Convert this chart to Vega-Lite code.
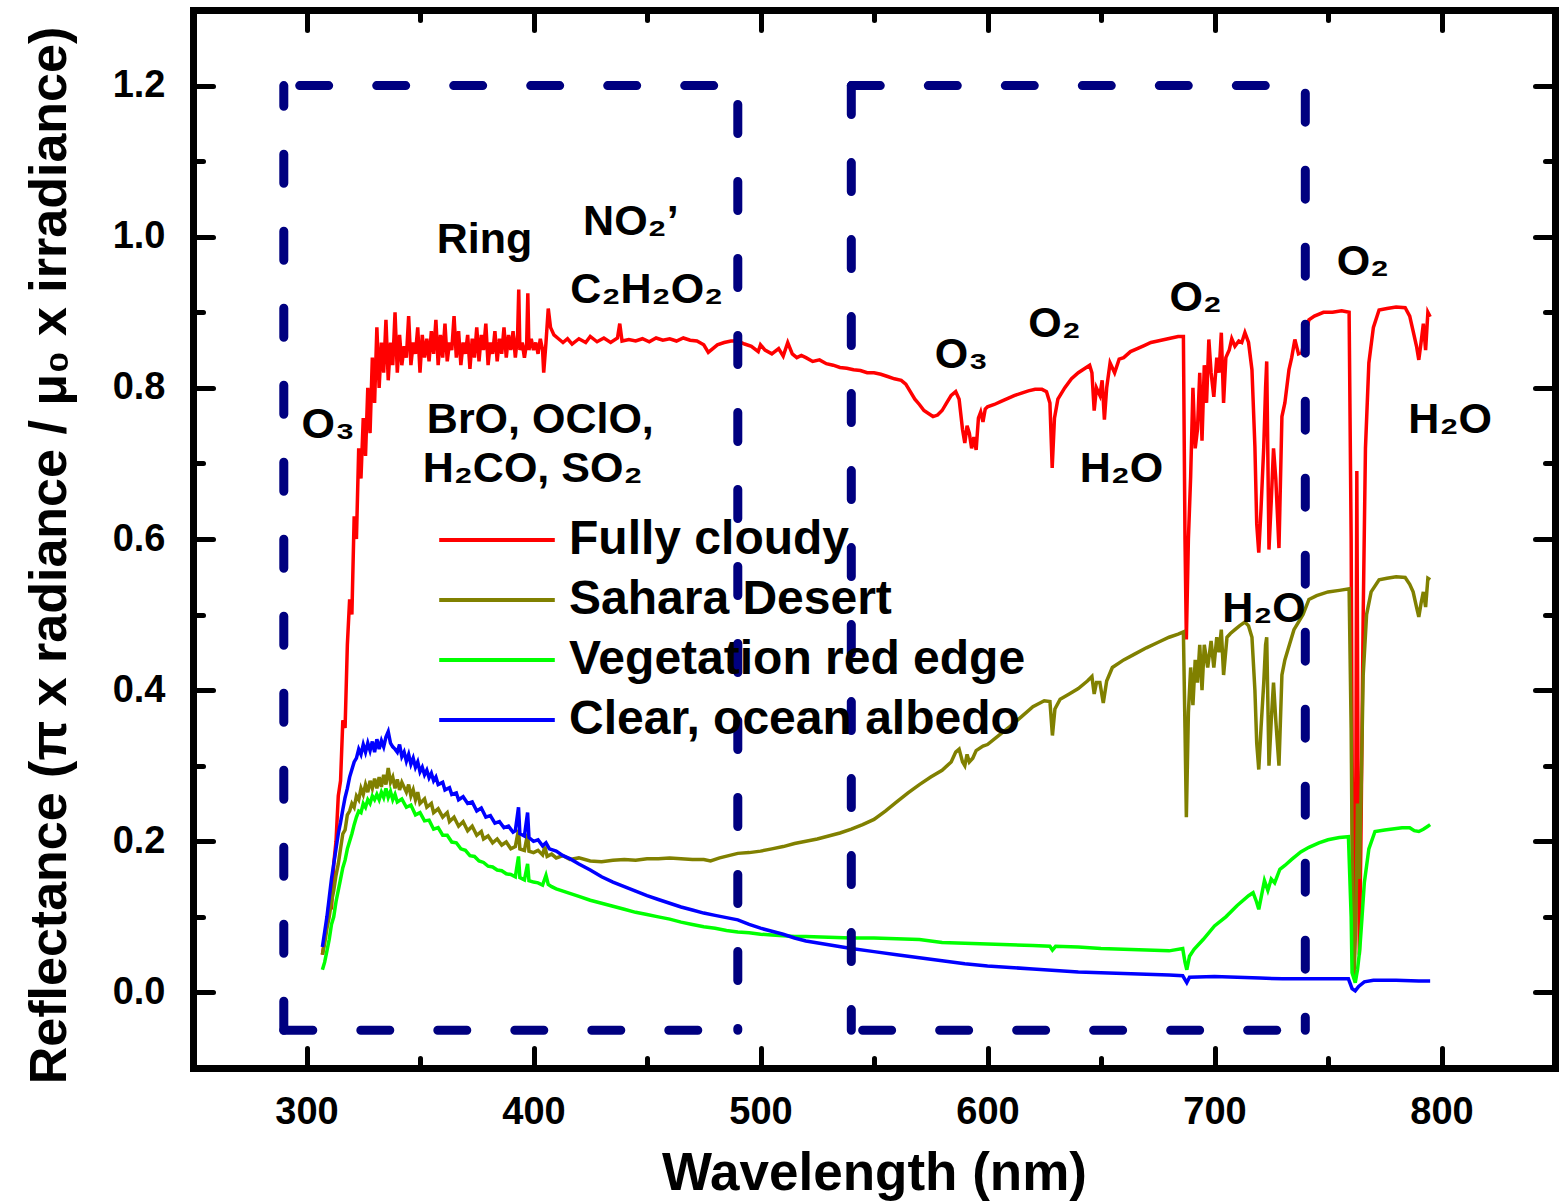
{
"$schema": "https://vega.github.io/schema/vega-lite/v6.json",
"width": 1362, "height": 1058,
"autosize": {"type": "none"},
"padding": {"left": 193, "top": 10, "right": 12, "bottom": 135},
"background": "white",
"config": {"font": "Liberation Sans", "view": {"stroke": null}},
"datasets": {
"red": [{"nm":307,"r":0.05},{"nm":308,"r":0.07},{"nm":309,"r":0.09},{"nm":310,"r":0.12},{"nm":311,"r":0.11},{"nm":312,"r":0.17},{"nm":313,"r":0.2},{"nm":314,"r":0.26},{"nm":315,"r":0.28},{"nm":316,"r":0.36},{"nm":317,"r":0.35},{"nm":318,"r":0.46},{"nm":319,"r":0.52},{"nm":320,"r":0.5},{"nm":321,"r":0.63},{"nm":322,"r":0.6},{"nm":323,"r":0.72},{"nm":324,"r":0.68},{"nm":325,"r":0.76},{"nm":326,"r":0.71},{"nm":327,"r":0.8},{"nm":328,"r":0.74},{"nm":329,"r":0.84},{"nm":330,"r":0.78},{"nm":331,"r":0.88},{"nm":332,"r":0.8},{"nm":333,"r":0.86},{"nm":334,"r":0.82},{"nm":335,"r":0.89},{"nm":336,"r":0.81},{"nm":337,"r":0.86},{"nm":338,"r":0.83},{"nm":339,"r":0.9},{"nm":340,"r":0.82},{"nm":341,"r":0.87},{"nm":342,"r":0.83},{"nm":343,"r":0.855},{"nm":344,"r":0.84},{"nm":345,"r":0.895},{"nm":346,"r":0.83},{"nm":347,"r":0.86},{"nm":348,"r":0.845},{"nm":349,"r":0.88},{"nm":350,"r":0.82},{"nm":351,"r":0.87},{"nm":352,"r":0.84},{"nm":353,"r":0.865},{"nm":354,"r":0.835},{"nm":355,"r":0.875},{"nm":356,"r":0.845},{"nm":357,"r":0.89},{"nm":358,"r":0.83},{"nm":359,"r":0.87},{"nm":360,"r":0.84},{"nm":361,"r":0.885},{"nm":362,"r":0.835},{"nm":363,"r":0.86},{"nm":364,"r":0.85},{"nm":365,"r":0.895},{"nm":366,"r":0.84},{"nm":367,"r":0.875},{"nm":368,"r":0.83},{"nm":369,"r":0.86},{"nm":370,"r":0.845},{"nm":371,"r":0.87},{"nm":372,"r":0.825},{"nm":373,"r":0.865},{"nm":374,"r":0.84},{"nm":375,"r":0.88},{"nm":376,"r":0.835},{"nm":377,"r":0.87},{"nm":378,"r":0.85},{"nm":379,"r":0.885},{"nm":380,"r":0.83},{"nm":381,"r":0.86},{"nm":382,"r":0.845},{"nm":383,"r":0.875},{"nm":384,"r":0.835},{"nm":385,"r":0.865},{"nm":386,"r":0.845},{"nm":387,"r":0.88},{"nm":388,"r":0.84},{"nm":389,"r":0.87},{"nm":390,"r":0.85},{"nm":391,"r":0.875},{"nm":392,"r":0.84},{"nm":393,"r":0.87},{"nm":393.5,"r":0.93},{"nm":394,"r":0.85},{"nm":395,"r":0.86},{"nm":396,"r":0.84},{"nm":397,"r":0.86},{"nm":397.5,"r":0.925},{"nm":398,"r":0.85},{"nm":399,"r":0.865},{"nm":400,"r":0.85},{"nm":401,"r":0.86},{"nm":402,"r":0.845},{"nm":403,"r":0.865},{"nm":404,"r":0.85},{"nm":404.5,"r":0.82},{"nm":405.5,"r":0.86},{"nm":406.5,"r":0.905},{"nm":407.5,"r":0.88},{"nm":409,"r":0.87},{"nm":411,"r":0.865},{"nm":413,"r":0.86},{"nm":415,"r":0.865},{"nm":417,"r":0.858},{"nm":420,"r":0.865},{"nm":423,"r":0.86},{"nm":425,"r":0.868},{"nm":428,"r":0.861},{"nm":431,"r":0.866},{"nm":434,"r":0.86},{"nm":437,"r":0.866},{"nm":438,"r":0.885},{"nm":439,"r":0.862},{"nm":442,"r":0.864},{"nm":445,"r":0.862},{"nm":448,"r":0.865},{"nm":451,"r":0.861},{"nm":454,"r":0.866},{"nm":457,"r":0.863},{"nm":460,"r":0.865},{"nm":463,"r":0.862},{"nm":466,"r":0.866},{"nm":469,"r":0.863},{"nm":472,"r":0.862},{"nm":475,"r":0.857},{"nm":477,"r":0.847},{"nm":479,"r":0.852},{"nm":481,"r":0.857},{"nm":484,"r":0.86},{"nm":487,"r":0.862},{"nm":490,"r":0.862},{"nm":493,"r":0.858},{"nm":496,"r":0.855},{"nm":499,"r":0.848},{"nm":500,"r":0.857},{"nm":502,"r":0.85},{"nm":505,"r":0.845},{"nm":508,"r":0.852},{"nm":510,"r":0.842},{"nm":512,"r":0.86},{"nm":514,"r":0.845},{"nm":516,"r":0.84},{"nm":518,"r":0.843},{"nm":520,"r":0.84},{"nm":523,"r":0.835},{"nm":526,"r":0.837},{"nm":529,"r":0.832},{"nm":532,"r":0.83},{"nm":535,"r":0.827},{"nm":538,"r":0.826},{"nm":541,"r":0.824},{"nm":544,"r":0.823},{"nm":547,"r":0.82},{"nm":550,"r":0.82},{"nm":553,"r":0.818},{"nm":556,"r":0.815},{"nm":559,"r":0.812},{"nm":562,"r":0.81},{"nm":564,"r":0.805},{"nm":566,"r":0.795},{"nm":568,"r":0.785},{"nm":570,"r":0.778},{"nm":572,"r":0.77},{"nm":574,"r":0.766},{"nm":576,"r":0.762},{"nm":578,"r":0.764},{"nm":580,"r":0.77},{"nm":582,"r":0.78},{"nm":584,"r":0.79},{"nm":586,"r":0.795},{"nm":587.5,"r":0.785},{"nm":589,"r":0.745},{"nm":590,"r":0.727},{"nm":591,"r":0.75},{"nm":592,"r":0.74},{"nm":593,"r":0.72},{"nm":594,"r":0.735},{"nm":595,"r":0.718},{"nm":596,"r":0.76},{"nm":597,"r":0.768},{"nm":598,"r":0.755},{"nm":599,"r":0.772},{"nm":600,"r":0.775},{"nm":603,"r":0.778},{"nm":606,"r":0.782},{"nm":609,"r":0.786},{"nm":612,"r":0.79},{"nm":615,"r":0.793},{"nm":618,"r":0.796},{"nm":621,"r":0.798},{"nm":624,"r":0.798},{"nm":626,"r":0.795},{"nm":627.5,"r":0.78},{"nm":628.5,"r":0.694},{"nm":629.5,"r":0.76},{"nm":631,"r":0.785},{"nm":634,"r":0.8},{"nm":637,"r":0.812},{"nm":640,"r":0.82},{"nm":643,"r":0.826},{"nm":645,"r":0.83},{"nm":646,"r":0.82},{"nm":647,"r":0.77},{"nm":648,"r":0.8},{"nm":649.5,"r":0.79},{"nm":650.5,"r":0.81},{"nm":651.5,"r":0.758},{"nm":652.5,"r":0.8},{"nm":654,"r":0.833},{"nm":656,"r":0.82},{"nm":658,"r":0.838},{"nm":660,"r":0.84},{"nm":663,"r":0.848},{"nm":666,"r":0.852},{"nm":669,"r":0.856},{"nm":672,"r":0.86},{"nm":675,"r":0.862},{"nm":678,"r":0.864},{"nm":681,"r":0.866},{"nm":684,"r":0.868},{"nm":686.3,"r":0.868},{"nm":687,"r":0.6},{"nm":687.6,"r":0.467},{"nm":688.5,"r":0.6},{"nm":689.5,"r":0.683},{"nm":690.5,"r":0.8},{"nm":691.5,"r":0.72},{"nm":692.5,"r":0.745},{"nm":693.5,"r":0.82},{"nm":694.5,"r":0.73},{"nm":695.5,"r":0.83},{"nm":696.5,"r":0.78},{"nm":697.5,"r":0.864},{"nm":698.5,"r":0.82},{"nm":699.7,"r":0.788},{"nm":701,"r":0.84},{"nm":702,"r":0.82},{"nm":703,"r":0.873},{"nm":704,"r":0.78},{"nm":705,"r":0.84},{"nm":706.5,"r":0.85},{"nm":707.6,"r":0.865},{"nm":709,"r":0.855},{"nm":710.7,"r":0.862},{"nm":712,"r":0.86},{"nm":713.4,"r":0.873},{"nm":715,"r":0.86},{"nm":716.5,"r":0.824},{"nm":717.8,"r":0.722},{"nm":718.6,"r":0.62},{"nm":719.5,"r":0.582},{"nm":720.5,"r":0.64},{"nm":721.7,"r":0.722},{"nm":722.5,"r":0.8},{"nm":723,"r":0.835},{"nm":724,"r":0.586},{"nm":725,"r":0.65},{"nm":726,"r":0.72},{"nm":727,"r":0.68},{"nm":728.4,"r":0.588},{"nm":729.7,"r":0.762},{"nm":731,"r":0.78},{"nm":732.8,"r":0.824},{"nm":734,"r":0.84},{"nm":735.4,"r":0.864},{"nm":737,"r":0.845},{"nm":738.5,"r":0.847},{"nm":740,"r":0.87},{"nm":741.6,"r":0.89},{"nm":744,"r":0.895},{"nm":748,"r":0.9},{"nm":752,"r":0.9},{"nm":756,"r":0.902},{"nm":759.3,"r":0.9},{"nm":760.2,"r":0.6},{"nm":760.8,"r":0.2},{"nm":761.5,"r":0.02},{"nm":762.3,"r":0.3},{"nm":762.7,"r":0.69},{"nm":763.2,"r":0.3},{"nm":763.8,"r":0.05},{"nm":764.5,"r":0.2},{"nm":765.5,"r":0.5},{"nm":766.5,"r":0.72},{"nm":768,"r":0.833},{"nm":770,"r":0.88},{"nm":772.5,"r":0.903},{"nm":776,"r":0.905},{"nm":780,"r":0.907},{"nm":784,"r":0.906},{"nm":786,"r":0.895},{"nm":787.5,"r":0.875},{"nm":789,"r":0.855},{"nm":790,"r":0.837},{"nm":791,"r":0.86},{"nm":792,"r":0.885},{"nm":793,"r":0.85},{"nm":794,"r":0.9},{"nm":795,"r":0.894}],
"olive": [{"nm":307,"r":0.05},{"nm":308,"r":0.065},{"nm":309,"r":0.085},{"nm":310,"r":0.1},{"nm":311,"r":0.12},{"nm":312,"r":0.135},{"nm":313,"r":0.155},{"nm":314,"r":0.17},{"nm":315,"r":0.19},{"nm":316,"r":0.21},{"nm":317,"r":0.215},{"nm":318,"r":0.235},{"nm":319,"r":0.24},{"nm":320,"r":0.25},{"nm":321,"r":0.245},{"nm":322,"r":0.26},{"nm":323,"r":0.255},{"nm":324,"r":0.27},{"nm":325,"r":0.262},{"nm":326,"r":0.275},{"nm":327,"r":0.265},{"nm":328,"r":0.28},{"nm":329,"r":0.27},{"nm":330,"r":0.283},{"nm":331,"r":0.27},{"nm":332,"r":0.285},{"nm":333,"r":0.272},{"nm":334,"r":0.288},{"nm":335,"r":0.275},{"nm":336,"r":0.297},{"nm":337,"r":0.278},{"nm":338,"r":0.285},{"nm":339,"r":0.27},{"nm":340,"r":0.282},{"nm":341,"r":0.268},{"nm":342,"r":0.278},{"nm":344,"r":0.265},{"nm":345,"r":0.275},{"nm":346,"r":0.26},{"nm":347,"r":0.268},{"nm":348,"r":0.255},{"nm":349,"r":0.265},{"nm":350,"r":0.25},{"nm":352,"r":0.256},{"nm":353,"r":0.245},{"nm":355,"r":0.25},{"nm":356,"r":0.238},{"nm":358,"r":0.243},{"nm":360,"r":0.232},{"nm":362,"r":0.238},{"nm":363,"r":0.226},{"nm":365,"r":0.232},{"nm":367,"r":0.22},{"nm":369,"r":0.226},{"nm":371,"r":0.214},{"nm":373,"r":0.22},{"nm":375,"r":0.208},{"nm":377,"r":0.213},{"nm":378,"r":0.203},{"nm":380,"r":0.207},{"nm":382,"r":0.198},{"nm":384,"r":0.203},{"nm":386,"r":0.195},{"nm":388,"r":0.199},{"nm":390,"r":0.19},{"nm":392,"r":0.193},{"nm":393.4,"r":0.215},{"nm":394,"r":0.19},{"nm":396,"r":0.188},{"nm":397.4,"r":0.21},{"nm":398,"r":0.187},{"nm":400,"r":0.185},{"nm":402,"r":0.188},{"nm":404,"r":0.182},{"nm":405,"r":0.193},{"nm":406,"r":0.18},{"nm":408,"r":0.183},{"nm":410,"r":0.178},{"nm":413,"r":0.181},{"nm":416,"r":0.176},{"nm":420,"r":0.178},{"nm":425,"r":0.174},{"nm":430,"r":0.173},{"nm":435,"r":0.175},{"nm":440,"r":0.176},{"nm":445,"r":0.175},{"nm":450,"r":0.177},{"nm":455,"r":0.177},{"nm":460,"r":0.178},{"nm":465,"r":0.177},{"nm":470,"r":0.176},{"nm":475,"r":0.176},{"nm":478,"r":0.174},{"nm":482,"r":0.178},{"nm":486,"r":0.181},{"nm":490,"r":0.184},{"nm":495,"r":0.185},{"nm":500,"r":0.187},{"nm":505,"r":0.19},{"nm":510,"r":0.193},{"nm":515,"r":0.197},{"nm":520,"r":0.2},{"nm":525,"r":0.203},{"nm":530,"r":0.207},{"nm":535,"r":0.211},{"nm":540,"r":0.216},{"nm":545,"r":0.222},{"nm":550,"r":0.229},{"nm":555,"r":0.24},{"nm":560,"r":0.252},{"nm":565,"r":0.264},{"nm":570,"r":0.275},{"nm":575,"r":0.285},{"nm":580,"r":0.294},{"nm":584,"r":0.305},{"nm":586,"r":0.318},{"nm":587.5,"r":0.322},{"nm":589,"r":0.305},{"nm":590,"r":0.3},{"nm":591,"r":0.315},{"nm":592,"r":0.305},{"nm":593.5,"r":0.31},{"nm":595,"r":0.32},{"nm":598,"r":0.326},{"nm":600,"r":0.328},{"nm":605,"r":0.34},{"nm":610,"r":0.352},{"nm":615,"r":0.365},{"nm":620,"r":0.378},{"nm":625,"r":0.386},{"nm":627.5,"r":0.385},{"nm":628.6,"r":0.34},{"nm":629.7,"r":0.375},{"nm":632,"r":0.388},{"nm":636,"r":0.395},{"nm":640,"r":0.402},{"nm":644,"r":0.412},{"nm":646,"r":0.418},{"nm":647,"r":0.395},{"nm":648,"r":0.41},{"nm":649.5,"r":0.41},{"nm":651,"r":0.383},{"nm":652.5,"r":0.412},{"nm":655,"r":0.43},{"nm":660,"r":0.44},{"nm":665,"r":0.448},{"nm":670,"r":0.456},{"nm":675,"r":0.463},{"nm":680,"r":0.47},{"nm":684,"r":0.474},{"nm":686.3,"r":0.477},{"nm":687,"r":0.35},{"nm":687.6,"r":0.232},{"nm":688.5,"r":0.37},{"nm":689.5,"r":0.43},{"nm":690.5,"r":0.38},{"nm":691.5,"r":0.44},{"nm":692.5,"r":0.41},{"nm":693.5,"r":0.46},{"nm":694.5,"r":0.4},{"nm":695.5,"r":0.46},{"nm":697,"r":0.43},{"nm":698.5,"r":0.465},{"nm":699.7,"r":0.43},{"nm":701,"r":0.47},{"nm":702,"r":0.45},{"nm":703,"r":0.48},{"nm":704,"r":0.42},{"nm":705.5,"r":0.47},{"nm":707,"r":0.475},{"nm":709,"r":0.48},{"nm":711,"r":0.485},{"nm":713.4,"r":0.49},{"nm":715,"r":0.485},{"nm":716.5,"r":0.47},{"nm":717.8,"r":0.4},{"nm":718.6,"r":0.33},{"nm":719.5,"r":0.295},{"nm":720.5,"r":0.35},{"nm":721.7,"r":0.41},{"nm":722.5,"r":0.46},{"nm":723,"r":0.47},{"nm":724,"r":0.3},{"nm":725,"r":0.36},{"nm":726,"r":0.41},{"nm":727,"r":0.36},{"nm":728.4,"r":0.3},{"nm":729.7,"r":0.42},{"nm":731,"r":0.44},{"nm":733,"r":0.46},{"nm":735,"r":0.48},{"nm":737,"r":0.49},{"nm":739,"r":0.5},{"nm":741.6,"r":0.52},{"nm":745,"r":0.525},{"nm":750,"r":0.53},{"nm":755,"r":0.532},{"nm":759.3,"r":0.534},{"nm":760.2,"r":0.35},{"nm":761,"r":0.05},{"nm":761.5,"r":0.02},{"nm":762.3,"r":0.1},{"nm":763,"r":0.25},{"nm":763.8,"r":0.15},{"nm":764.5,"r":0.25},{"nm":765.5,"r":0.42},{"nm":767,"r":0.5},{"nm":769,"r":0.53},{"nm":772.5,"r":0.546},{"nm":776,"r":0.548},{"nm":780,"r":0.55},{"nm":784,"r":0.549},{"nm":786,"r":0.54},{"nm":787.5,"r":0.53},{"nm":789,"r":0.51},{"nm":790,"r":0.497},{"nm":791,"r":0.515},{"nm":792,"r":0.53},{"nm":793,"r":0.51},{"nm":794,"r":0.548},{"nm":795,"r":0.546}],
"green": [{"nm":307,"r":0.03},{"nm":308,"r":0.04},{"nm":309,"r":0.055},{"nm":310,"r":0.07},{"nm":311,"r":0.09},{"nm":312,"r":0.1},{"nm":313,"r":0.12},{"nm":314,"r":0.135},{"nm":315,"r":0.15},{"nm":316,"r":0.165},{"nm":317,"r":0.175},{"nm":318,"r":0.19},{"nm":319,"r":0.2},{"nm":320,"r":0.21},{"nm":321,"r":0.222},{"nm":322,"r":0.232},{"nm":323,"r":0.24},{"nm":324,"r":0.238},{"nm":325,"r":0.25},{"nm":326,"r":0.245},{"nm":327,"r":0.255},{"nm":328,"r":0.25},{"nm":329,"r":0.26},{"nm":330,"r":0.255},{"nm":331,"r":0.262},{"nm":332,"r":0.255},{"nm":333,"r":0.265},{"nm":334,"r":0.258},{"nm":335,"r":0.27},{"nm":336,"r":0.258},{"nm":337,"r":0.266},{"nm":338,"r":0.255},{"nm":339,"r":0.262},{"nm":340,"r":0.252},{"nm":342,"r":0.256},{"nm":344,"r":0.245},{"nm":346,"r":0.248},{"nm":348,"r":0.235},{"nm":350,"r":0.238},{"nm":352,"r":0.227},{"nm":354,"r":0.228},{"nm":356,"r":0.216},{"nm":358,"r":0.218},{"nm":360,"r":0.208},{"nm":362,"r":0.208},{"nm":364,"r":0.199},{"nm":366,"r":0.198},{"nm":368,"r":0.19},{"nm":370,"r":0.188},{"nm":372,"r":0.181},{"nm":374,"r":0.18},{"nm":376,"r":0.174},{"nm":378,"r":0.172},{"nm":380,"r":0.167},{"nm":382,"r":0.166},{"nm":384,"r":0.162},{"nm":386,"r":0.161},{"nm":388,"r":0.157},{"nm":390,"r":0.156},{"nm":392,"r":0.153},{"nm":393.4,"r":0.18},{"nm":394,"r":0.152},{"nm":396,"r":0.149},{"nm":397.4,"r":0.17},{"nm":398,"r":0.148},{"nm":400,"r":0.146},{"nm":402,"r":0.145},{"nm":404,"r":0.142},{"nm":405.5,"r":0.155},{"nm":406.5,"r":0.143},{"nm":408,"r":0.14},{"nm":410,"r":0.137},{"nm":413,"r":0.134},{"nm":416,"r":0.131},{"nm":420,"r":0.127},{"nm":425,"r":0.122},{"nm":430,"r":0.118},{"nm":435,"r":0.114},{"nm":440,"r":0.11},{"nm":445,"r":0.106},{"nm":450,"r":0.103},{"nm":455,"r":0.1},{"nm":460,"r":0.097},{"nm":465,"r":0.093},{"nm":470,"r":0.09},{"nm":475,"r":0.087},{"nm":480,"r":0.085},{"nm":485,"r":0.082},{"nm":490,"r":0.08},{"nm":495,"r":0.079},{"nm":500,"r":0.077},{"nm":505,"r":0.076},{"nm":510,"r":0.075},{"nm":515,"r":0.074},{"nm":520,"r":0.074},{"nm":530,"r":0.073},{"nm":540,"r":0.072},{"nm":550,"r":0.072},{"nm":560,"r":0.071},{"nm":570,"r":0.07},{"nm":580,"r":0.066},{"nm":590,"r":0.065},{"nm":600,"r":0.064},{"nm":610,"r":0.063},{"nm":620,"r":0.062},{"nm":627.5,"r":0.061},{"nm":628.6,"r":0.056},{"nm":630,"r":0.061},{"nm":640,"r":0.06},{"nm":650,"r":0.058},{"nm":660,"r":0.057},{"nm":670,"r":0.056},{"nm":680,"r":0.055},{"nm":686,"r":0.058},{"nm":687,"r":0.04},{"nm":687.8,"r":0.03},{"nm":689,"r":0.048},{"nm":691,"r":0.057},{"nm":695,"r":0.07},{"nm":700,"r":0.088},{"nm":705,"r":0.1},{"nm":710,"r":0.115},{"nm":715,"r":0.128},{"nm":717,"r":0.132},{"nm":718.5,"r":0.12},{"nm":719.5,"r":0.11},{"nm":720.5,"r":0.125},{"nm":722,"r":0.148},{"nm":723.5,"r":0.135},{"nm":725,"r":0.15},{"nm":726.5,"r":0.145},{"nm":728.8,"r":0.163},{"nm":731,"r":0.168},{"nm":734,"r":0.176},{"nm":738,"r":0.186},{"nm":741.6,"r":0.192},{"nm":746,"r":0.198},{"nm":750,"r":0.202},{"nm":755,"r":0.205},{"nm":759,"r":0.206},{"nm":760.2,"r":0.1},{"nm":760.6,"r":0.026},{"nm":762,"r":0.013},{"nm":763,"r":0.03},{"nm":764,"r":0.057},{"nm":765,"r":0.1},{"nm":766,"r":0.145},{"nm":768,"r":0.19},{"nm":770.7,"r":0.213},{"nm":775,"r":0.215},{"nm":782.6,"r":0.218},{"nm":786,"r":0.218},{"nm":788,"r":0.214},{"nm":790,"r":0.213},{"nm":792,"r":0.216},{"nm":794,"r":0.22},{"nm":795,"r":0.222}],
"blue": [{"nm":307,"r":0.06},{"nm":308,"r":0.08},{"nm":309,"r":0.1},{"nm":310,"r":0.125},{"nm":311,"r":0.15},{"nm":312,"r":0.17},{"nm":313,"r":0.19},{"nm":314,"r":0.21},{"nm":315,"r":0.225},{"nm":316,"r":0.242},{"nm":317,"r":0.258},{"nm":318,"r":0.27},{"nm":319,"r":0.285},{"nm":320,"r":0.295},{"nm":321,"r":0.305},{"nm":322,"r":0.31},{"nm":323,"r":0.322},{"nm":324,"r":0.315},{"nm":325,"r":0.328},{"nm":326,"r":0.318},{"nm":327,"r":0.33},{"nm":328,"r":0.32},{"nm":329,"r":0.332},{"nm":330,"r":0.318},{"nm":331,"r":0.335},{"nm":332,"r":0.322},{"nm":333,"r":0.333},{"nm":334,"r":0.325},{"nm":335,"r":0.338},{"nm":336,"r":0.345},{"nm":337,"r":0.33},{"nm":338,"r":0.325},{"nm":339,"r":0.322},{"nm":340,"r":0.318},{"nm":341,"r":0.328},{"nm":342,"r":0.312},{"nm":343,"r":0.318},{"nm":344,"r":0.306},{"nm":345,"r":0.315},{"nm":346,"r":0.302},{"nm":347,"r":0.31},{"nm":348,"r":0.298},{"nm":349,"r":0.305},{"nm":350,"r":0.292},{"nm":351,"r":0.298},{"nm":352,"r":0.288},{"nm":353,"r":0.294},{"nm":354,"r":0.284},{"nm":355,"r":0.29},{"nm":356,"r":0.28},{"nm":357,"r":0.285},{"nm":358,"r":0.275},{"nm":360,"r":0.278},{"nm":361,"r":0.268},{"nm":363,"r":0.271},{"nm":364,"r":0.262},{"nm":366,"r":0.264},{"nm":367,"r":0.255},{"nm":369,"r":0.259},{"nm":371,"r":0.25},{"nm":373,"r":0.252},{"nm":375,"r":0.24},{"nm":377,"r":0.244},{"nm":379,"r":0.232},{"nm":381,"r":0.234},{"nm":383,"r":0.224},{"nm":385,"r":0.226},{"nm":387,"r":0.218},{"nm":389,"r":0.22},{"nm":391,"r":0.212},{"nm":392,"r":0.214},{"nm":393.4,"r":0.245},{"nm":394,"r":0.21},{"nm":396,"r":0.207},{"nm":397.4,"r":0.238},{"nm":398,"r":0.205},{"nm":400,"r":0.2},{"nm":402,"r":0.202},{"nm":404,"r":0.194},{"nm":405.5,"r":0.198},{"nm":407,"r":0.19},{"nm":410,"r":0.187},{"nm":413,"r":0.181},{"nm":416,"r":0.177},{"nm":420,"r":0.17},{"nm":425,"r":0.162},{"nm":430,"r":0.153},{"nm":435,"r":0.146},{"nm":440,"r":0.14},{"nm":445,"r":0.134},{"nm":450,"r":0.128},{"nm":455,"r":0.123},{"nm":460,"r":0.118},{"nm":465,"r":0.113},{"nm":470,"r":0.109},{"nm":475,"r":0.105},{"nm":480,"r":0.102},{"nm":485,"r":0.099},{"nm":490,"r":0.096},{"nm":495,"r":0.09},{"nm":500,"r":0.085},{"nm":505,"r":0.081},{"nm":510,"r":0.077},{"nm":515,"r":0.072},{"nm":520,"r":0.068},{"nm":530,"r":0.063},{"nm":540,"r":0.058},{"nm":550,"r":0.054},{"nm":560,"r":0.05},{"nm":570,"r":0.046},{"nm":580,"r":0.042},{"nm":590,"r":0.038},{"nm":600,"r":0.035},{"nm":610,"r":0.033},{"nm":620,"r":0.031},{"nm":630,"r":0.029},{"nm":640,"r":0.027},{"nm":650,"r":0.026},{"nm":660,"r":0.025},{"nm":670,"r":0.024},{"nm":680,"r":0.023},{"nm":686,"r":0.022},{"nm":687.8,"r":0.013},{"nm":689,"r":0.02},{"nm":700,"r":0.021},{"nm":710,"r":0.02},{"nm":720,"r":0.019},{"nm":730,"r":0.018},{"nm":740,"r":0.018},{"nm":750,"r":0.018},{"nm":759,"r":0.018},{"nm":760.6,"r":0.005},{"nm":762,"r":0.002},{"nm":763.5,"r":0.008},{"nm":766,"r":0.014},{"nm":770,"r":0.016},{"nm":780,"r":0.016},{"nm":790,"r":0.015},{"nm":795,"r":0.015}],
"boxes": [
{"seg":"A-left","pt":0,"nm":290,"r":-0.05},{"seg":"A-left","pt":1,"nm":290,"r":1.2},
{"seg":"A-bottom","pt":0,"nm":290,"r":-0.05},{"seg":"A-bottom","pt":1,"nm":490,"r":-0.05},
{"seg":"A-top","pt":0,"nm":297,"r":1.2},{"seg":"A-top","pt":1,"nm":490,"r":1.2},
{"seg":"A-right","pt":0,"nm":490,"r":1.175},{"seg":"A-right","pt":1,"nm":490,"r":-0.05},
{"seg":"B-left","pt":0,"nm":540,"r":1.2},{"seg":"B-left","pt":1,"nm":540,"r":-0.05},
{"seg":"B-top","pt":0,"nm":540,"r":1.2},{"seg":"B-top","pt":1,"nm":740,"r":1.2},
{"seg":"B-bottom","pt":0,"nm":545,"r":-0.05},{"seg":"B-bottom","pt":1,"nm":740,"r":-0.05},
{"seg":"B-right","pt":0,"nm":740,"r":1.19},{"seg":"B-right","pt":1,"nm":740,"r":-0.05}],
"labels": [
{"t":"O₃","nm":309.6,"r":0.751},
{"t":"Ring","nm":378.4,"r":0.996},
{"t":"NO₂’","nm":442.9,"r":1.02},
{"t":"C₂H₂O₂","nm":449.9,"r":0.93},
{"t":"BrO, OClO,","nm":403,"r":0.758},
{"t":"H₂CO, SO₂","nm":399.6,"r":0.692},
{"t":"O₃","nm":588.5,"r":0.844},
{"t":"O₂","nm":629.5,"r":0.884},
{"t":"H₂O","nm":659,"r":0.692},
{"t":"O₂","nm":691.7,"r":0.919},
{"t":"H₂O","nm":721.8,"r":0.507},
{"t":"O₂","nm":765.4,"r":0.967},
{"t":"H₂O","nm":803.8,"r":0.758}]
},
"layer": [
{"data": {"name": "red"}, "mark": {"type": "line", "strokeWidth": 3.5},
 "encoding": {
  "x": {"field": "nm", "type": "quantitative", "scale": {"domain": [250, 850], "nice": false, "zero": false},
   "axis": {"orient": "top", "values": [300,350,400,450,500,550,600,650,700,750,800], "labels": false, "title": null, "grid": false,
    "tickSize": {"condition": {"test": "datum.value % 100 === 0", "value": -20}, "value": -10},
    "tickWidth": 5, "tickColor": "black", "tickCap": "round", "domainColor": "black", "domainWidth": 7, "domainCap": "square"}},
  "y": {"field": "r", "type": "quantitative", "scale": {"domain": [-0.1, 1.3], "nice": false, "zero": false},
   "axis": {"orient": "right", "values": [0,0.1,0.2,0.3,0.4,0.5,0.6,0.7,0.8,0.9,1.0,1.1,1.2], "labels": false, "title": null, "grid": false,
    "tickSize": {"condition": {"test": "round(datum.value*10) % 2 === 0", "value": -20}, "value": -10},
    "tickWidth": 5, "tickColor": "black", "tickCap": "round", "domainColor": "black", "domainWidth": 7, "domainCap": "square"}},
  "color": {"datum": "Fully cloudy", "type": "nominal",
   "scale": {"domain": ["Fully cloudy", "Sahara Desert", "Vegetation red edge", "Clear, ocean albedo"], "range": ["#ff0000", "#808000", "#00ff00", "#0000ff"]},
   "legend": {"orient": "none", "legendX": 268, "legendY": 494, "title": null, "symbolType": "M-1.7,0H1.7", "symbolSize": 4624, "symbolStrokeWidth": 4,
    "labelFontSize": 48, "labelFontWeight": "bold", "labelColor": "black", "labelOffset": 36, "rowPadding": 0, "padding": 0, "labelLimit": 1000, "labelFont": "Liberation Sans"}}
 }},
{"data": {"name": "olive"}, "mark": {"type": "line", "strokeWidth": 3.5},
 "encoding": {"x": {"field": "nm", "type": "quantitative", "axis": null}, "y": {"field": "r", "type": "quantitative", "axis": null}, "color": {"datum": "Sahara Desert", "type": "nominal"}}},
{"data": {"name": "green"}, "mark": {"type": "line", "strokeWidth": 3.5},
 "encoding": {"x": {"field": "nm", "type": "quantitative", "axis": null}, "y": {"field": "r", "type": "quantitative", "axis": null}, "color": {"datum": "Vegetation red edge", "type": "nominal"}}},
{"data": {"name": "blue"}, "mark": {"type": "line", "strokeWidth": 3.5},
 "encoding": {"x": {"field": "nm", "type": "quantitative", "axis": null}, "y": {"field": "r", "type": "quantitative", "axis": null}, "color": {"datum": "Clear, ocean albedo", "type": "nominal"}}},
{"data": {"name": "boxes"}, "mark": {"type": "line", "color": "#000080", "strokeWidth": 9, "strokeDash": [29, 48], "strokeCap": "round"},
 "encoding": {
  "x": {"field": "nm", "type": "quantitative",
   "axis": {"orient": "bottom", "values": [300,350,400,450,500,550,600,650,700,750,800], "labelExpr": "datum.value % 100 === 0 ? datum.label : ''", "format": "d", "grid": false,
    "tickSize": {"condition": {"test": "datum.value % 100 === 0", "value": -20}, "value": -10},
    "tickWidth": 5, "tickColor": "black", "tickCap": "round", "domainColor": "black", "domainWidth": 7, "domainCap": "square",
    "labelFontSize": 38, "labelFontWeight": "bold", "labelColor": "black", "labelPadding": 45, "labelFont": "Liberation Sans",
    "title": "Wavelength (nm)", "titleFontSize": 53, "titleFontWeight": "bold", "titleColor": "black", "titlePadding": 16, "titleFont": "Liberation Sans"}},
  "y": {"field": "r", "type": "quantitative",
   "axis": {"orient": "left", "values": [0,0.1,0.2,0.3,0.4,0.5,0.6,0.7,0.8,0.9,1.0,1.1,1.2], "labelExpr": "round(datum.value*10) % 2 === 0 ? format(datum.value, '.1f') : ''", "grid": false,
    "tickSize": {"condition": {"test": "round(datum.value*10) % 2 === 0", "value": -20}, "value": -10},
    "tickWidth": 5, "tickColor": "black", "tickCap": "round", "domainColor": "black", "domainWidth": 7, "domainCap": "square",
    "labelFontSize": 38, "labelFontWeight": "bold", "labelColor": "black", "labelPadding": 48, "labelFont": "Liberation Sans",
    "title": "Reflectance (π x radiance / μ₀ x irradiance)", "titleFontSize": 52, "titleFontWeight": "bold", "titleColor": "black", "titlePadding": 36, "titleY": 545, "titleFont": "Liberation Sans"}},
  "detail": {"field": "seg", "type": "nominal"},
  "order": {"field": "pt", "type": "quantitative"}
 }},
{"data": {"name": "labels"}, "mark": {"type": "text", "fontSize": 43, "fontWeight": "bold", "font": "Liberation Sans", "color": "black", "align": "center", "baseline": "middle"},
 "encoding": {"x": {"field": "nm", "type": "quantitative", "axis": null}, "y": {"field": "r", "type": "quantitative", "axis": null}, "text": {"field": "t", "type": "nominal"}}}
],
"resolve": {"axis": {"x": "independent", "y": "independent"}}
}
